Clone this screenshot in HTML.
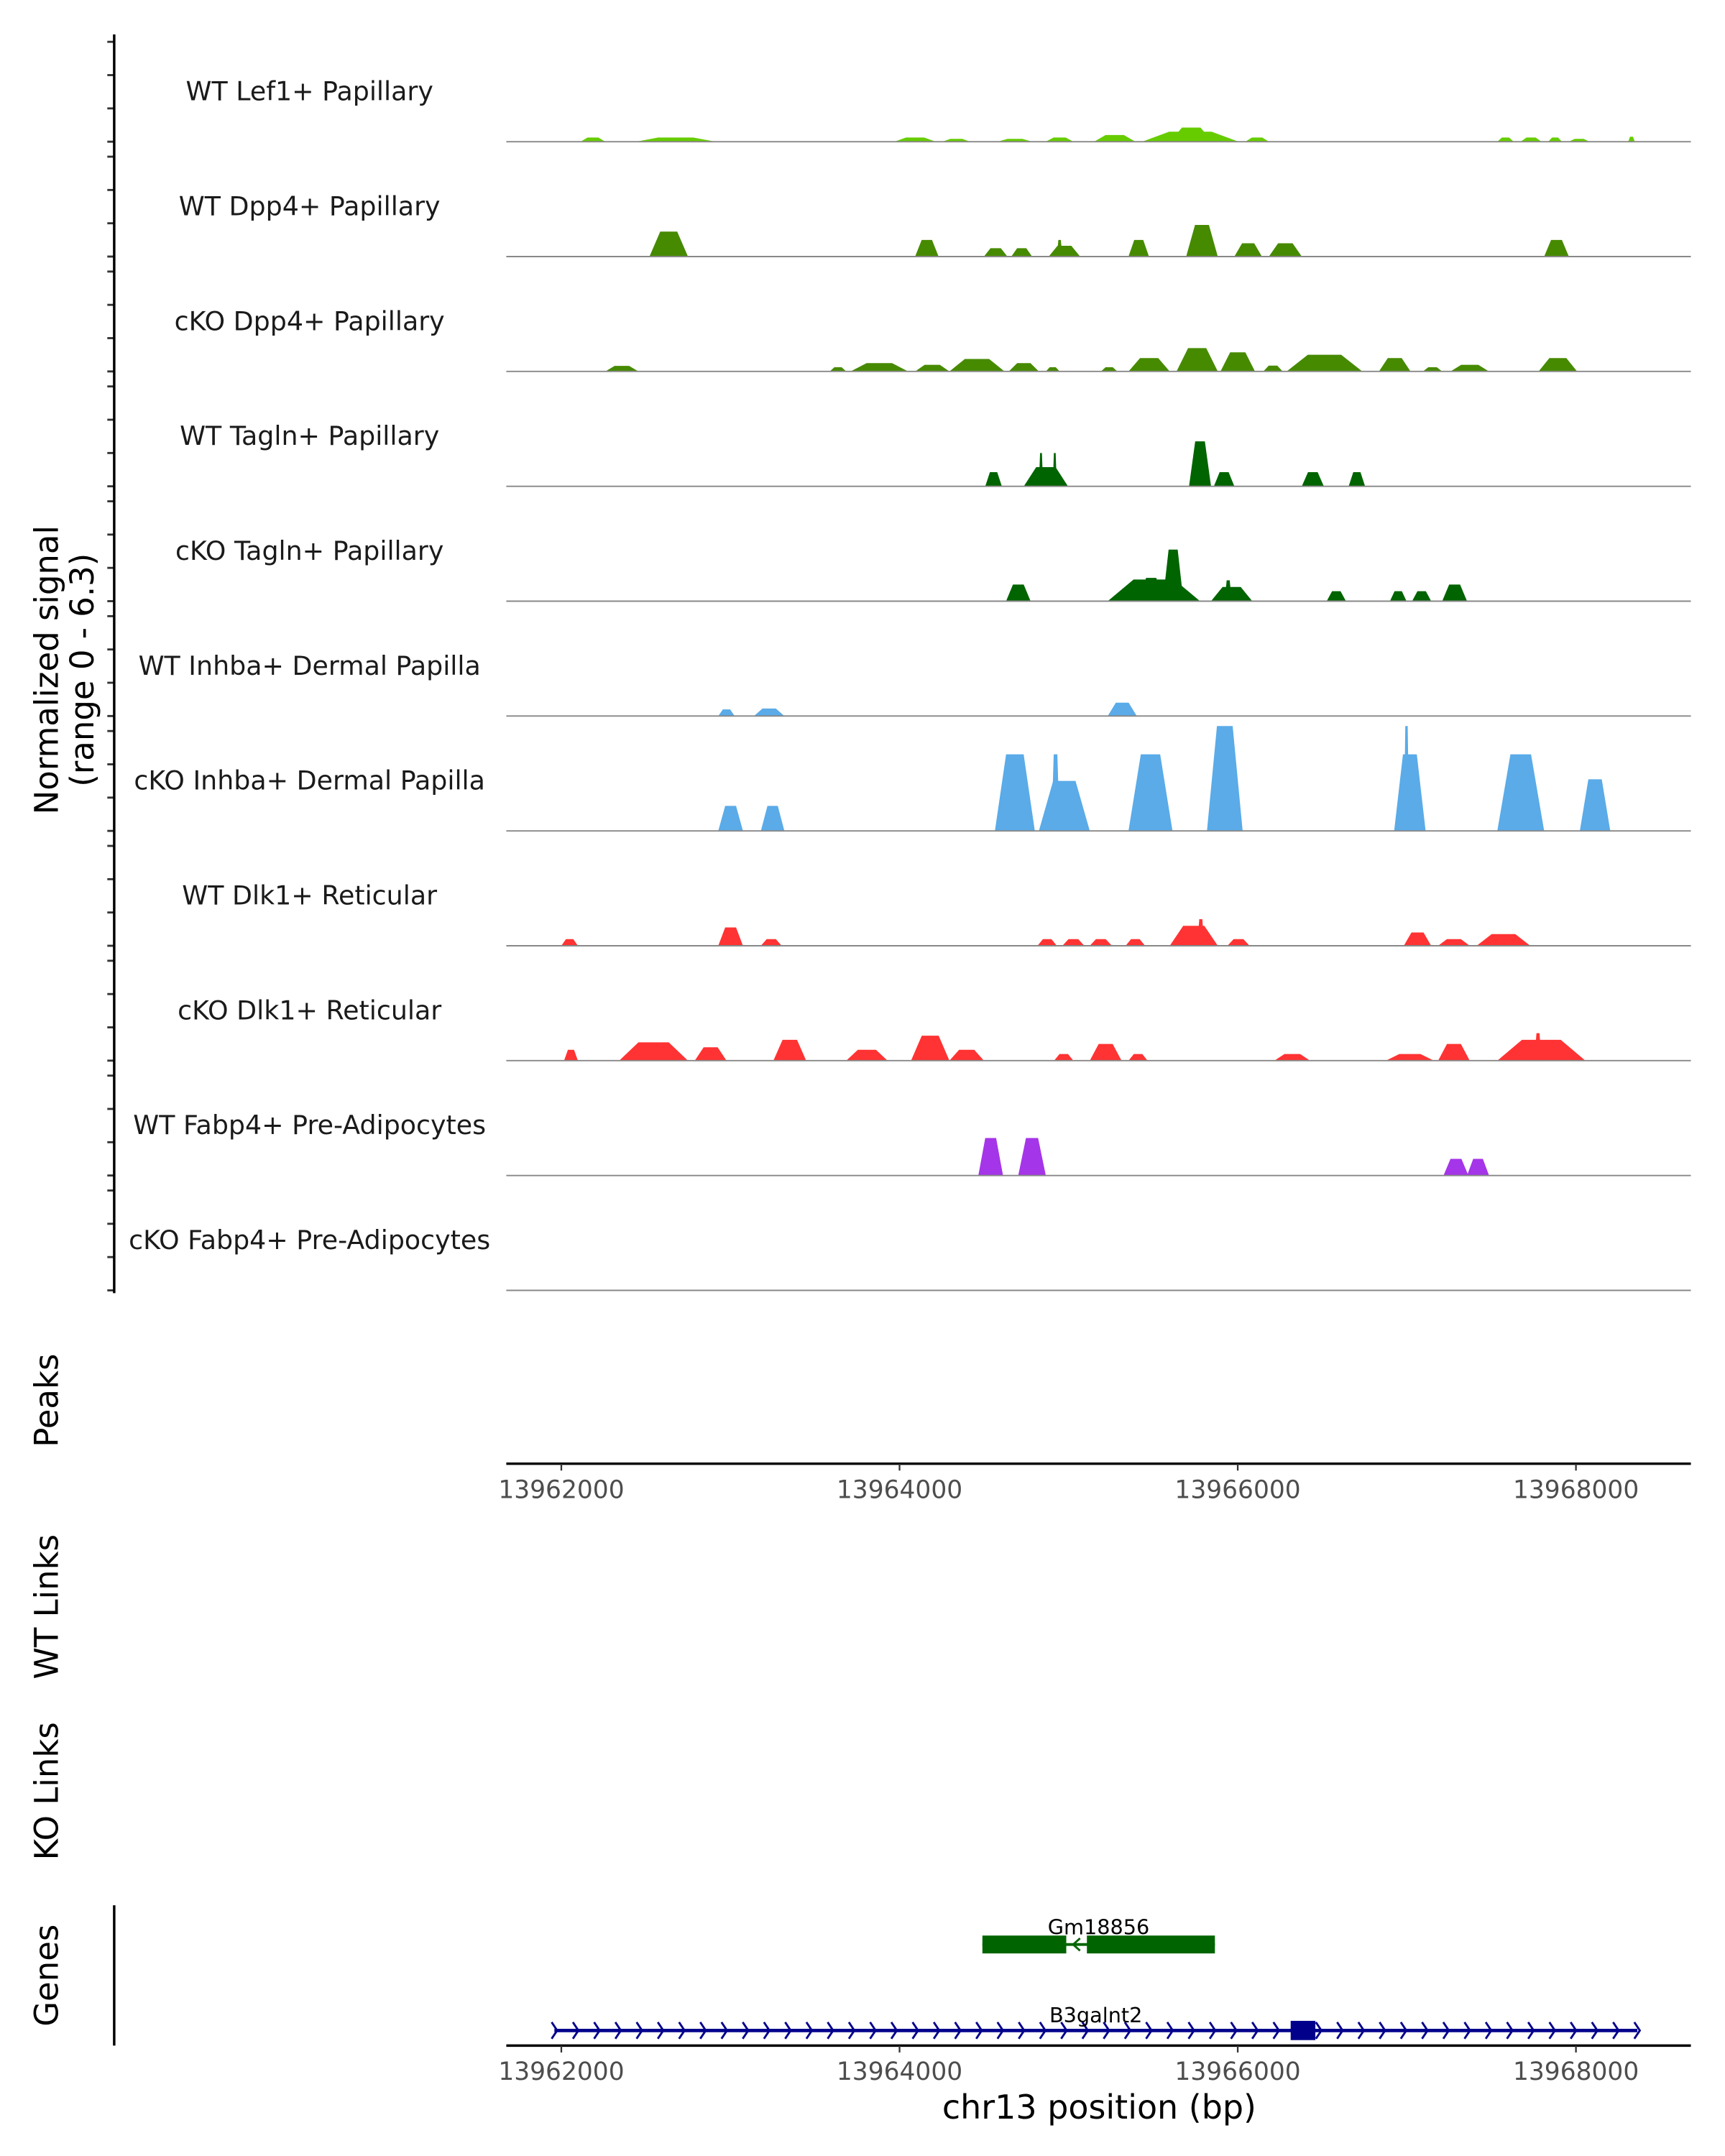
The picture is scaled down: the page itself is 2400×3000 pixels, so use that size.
<!DOCTYPE html>
<html><head><meta charset="utf-8"><style>
html,body{margin:0;padding:0;background:#fff}
svg{display:block}
text{font-family:"DejaVu Sans","Liberation Sans",sans-serif}
</style></head><body>
<svg id="chart" width="2400" height="3000" viewBox="0 0 1253.8 1567.25" xmlns="http://www.w3.org/2000/svg">
<g id="tracks"></g>
<g id="axes"></g>
</svg>
<script>
const trackNames = ["WT Lef1+ Papillary","WT Dpp4+ Papillary","cKO Dpp4+ Papillary","WT Tagln+ Papillary","cKO Tagln+ Papillary","WT Inhba+ Dermal Papilla","cKO Inhba+ Dermal Papilla","WT Dlk1+ Reticular","cKO Dlk1+ Reticular","WT Fabp4+ Pre-Adipocytes","cKO Fabp4+ Pre-Adipocytes"];
const trackColors = ["#66cc00","#468a00","#468a00","#006400","#006400","#5aabe8","#5aabe8","#ff3333","#ff3333","#a535e8","#a535e8"];
const xTicks = [13962000,13964000,13966000,13968000];
const yTicks = [0,2,4,6];
// peaks per track: [start bp, end bp, signal]
const peaksLef1WT = [[13962114,13962260,0.25],[13962440,13962912,0.25],[13963970,13964214,0.25],[13964254,13964417,0.17],[13964581,13964784,0.17],[13964865,13965028,0.25],[13965150,13965395,0.4],[13965435,13966005,0.6],[13965600,13965850,0.85],[13966045,13966184,0.25],[13967535,13967632,0.25],[13967673,13967796,0.25],[13967836,13967917,0.25],[13967958,13968080,0.17],[13968309,13968348,0.3]];
const peaksDpp4WT = [[13962521,13962749,1.5],[13964092,13964231,1.0],[13964499,13964638,0.5],[13964661,13964784,0.5],[13964882,13965068,0.65],[13964930,13964963,1.0],[13965354,13965475,1.0],[13965695,13965882,1.9],[13965980,13966143,0.8],[13966184,13966379,0.8],[13967812,13967958,1.0]];
const peaksDpp4KO = [[13962260,13962456,0.33],[13963587,13963685,0.25],[13963710,13964051,0.5],[13964092,13964295,0.4],[13964295,13964621,0.75],[13964646,13964824,0.5],[13964865,13964947,0.25],[13965191,13965288,0.25],[13965354,13965598,0.8],[13965638,13965882,1.4],[13965898,13966102,1.15],[13966151,13966266,0.35],[13966289,13966737,1.0],[13966835,13967022,0.8],[13967095,13967209,0.25],[13967258,13967486,0.4],[13967779,13968007,0.8]];
const peaksTaglnWT = [[13964507,13964605,0.85],[13964735,13964996,1.15],[13964824,13964849,2.0],[13964906,13964930,2.0],[13965712,13965842,2.7],[13965859,13965980,0.85],[13966379,13966509,0.85],[13966656,13966753,0.85]];
const peaksTaglnKO = [[13964630,13964775,1.0],[13965231,13965777,1.3],[13965419,13965557,1.4],[13965557,13965679,3.1],[13965842,13966086,0.85],[13965923,13965964,1.25],[13966526,13966640,0.6],[13966900,13966998,0.6],[13967031,13967144,0.6],[13967209,13967356,1.0]];
const peaksInhbaWT = [[13962928,13963025,0.4],[13963139,13963319,0.45],[13965231,13965403,0.8]];
const peaksInhbaKO = [[13962928,13963074,1.5],[13963180,13963319,1.5],[13964564,13964800,4.6],[13964824,13965125,3.0],[13964898,13964947,4.6],[13965354,13965614,4.6],[13965818,13966029,6.3],[13966925,13967111,4.6],[13966982,13967014,6.3],[13967535,13967812,4.6],[13968023,13968203,3.1]];
const peaksDlk1WT = [[13962000,13962098,0.4],[13962928,13963074,1.1],[13963180,13963303,0.4],[13964816,13964930,0.4],[13964963,13965093,0.4],[13965125,13965256,0.4],[13965337,13965452,0.4],[13965598,13965882,1.2],[13965761,13965802,1.6],[13965939,13966070,0.4],[13966982,13967144,0.8],[13967185,13967372,0.4],[13967413,13967730,0.7]];
const peaksDlk1KO = [[13962016,13962098,0.65],[13962342,13962749,1.1],[13962789,13962977,0.8],[13963254,13963448,1.25],[13963685,13963929,0.65],[13964068,13964295,1.5],[13964295,13964499,0.65],[13964914,13965028,0.4],[13965125,13965313,1.0],[13965354,13965467,0.4],[13966217,13966428,0.4],[13966876,13967160,0.4],[13967185,13967372,1.0],[13967535,13968056,1.25],[13967755,13967796,1.65]];
const peaksFabp4WT = [[13964466,13964612,2.25],[13964702,13964865,2.25],[13967217,13967364,1.0],[13967356,13967486,1.0]];
const peaksFabp4KO = [];
const trackPeaks = [peaksLef1WT,peaksDpp4WT,peaksDpp4KO,peaksTaglnWT,peaksTaglnKO,peaksInhbaWT,peaksInhbaKO,peaksDlk1WT,peaksDlk1KO,peaksFabp4WT,peaksFabp4KO];
const geneNames = ["Gm18856","B3galnt2"];
const gm18856Exons = [[13964490,13964986],[13965108,13965865]];
const b3galnt2Span = [13961959,13968363];
const b3galnt2Exons = [[13966313,13966459]];

const NS="http://www.w3.org/2000/svg";
const X0=368,X1=1229;
const xs = bp => 408 + (bp-13962000)*0.12291;
const ys = v => v*12.1;
const base = i => 103 + i*83.5;
function mk(tag, attrs, parent){const e=document.createElementNS(NS,tag);for(const k in attrs)e.setAttribute(k,attrs[k]);parent.appendChild(e);return e;}
const T=document.getElementById('tracks'), A=document.getElementById('axes');

trackNames.forEach((nm,i)=>{
  const b=base(i);
  const g=mk('g',{},T);
  
  
  trackPeaks[i].forEach(p=>{
    const s=xs(p[0]),e=xs(p[1]),h=ys(p[2]),w=e-s;
    const poly=mk('polygon',{points:`${s},${b} ${s+w*0.28},${b-h} ${e-w*0.28},${b-h} ${e},${b}`,fill:trackColors[i]},g);
    
    
  });
  const ln=mk('line',{x1:X0,x2:X1,y1:b,y2:b,stroke:'#888','stroke-width':1},g);
  
  
  const t=mk('text',{x:225,y:b-30,'text-anchor':'middle','font-size':19,fill:'#1a1a1a'},g);
  t.textContent=nm;
  
  
  yTicks.forEach(v=>{
    const tk=mk('line',{x1:78,x2:83,y1:b-ys(v),y2:b-ys(v),stroke:'#333','stroke-width':1.5},A);
    
    
  });
});
const yax=mk('line',{x1:83,x2:83,y1:25,y2:940,stroke:'#000','stroke-width':1.8},A);



function rotText(txt,x,y,size,name){
  const t=mk('text',{x:0,y:0,transform:`translate(${x},${y}) rotate(-90)`,'text-anchor':'middle','font-size':size,fill:'#000'},A);
  t.textContent=txt;
  
  
  return t;
}
const yt=mk('text',{transform:'translate(42,487) rotate(-90)','text-anchor':'middle','font-size':23.5,fill:'#000'},A);


yt.innerHTML='<tspan x="0" dy="0">Normalized signal</tspan><tspan x="0" dy="26">(range 0 - 6.3)</tspan>';
rotText('Peaks',42,1018,23.5,'peaks-label');
rotText('WT Links',42,1168,23.5,'wt-links-label');
rotText('KO Links',42,1302,23.5,'ko-links-label');
rotText('Genes',42,1436,23.5,'genes-label');

function xAxis(y,name){
  const l=mk('line',{x1:X0,x2:X1,y1:y,y2:y,stroke:'#000','stroke-width':1.8},A);
  
  
  xTicks.forEach(v=>{
    const tk=mk('line',{x1:xs(v),x2:xs(v),y1:y,y2:y+5,stroke:'#333','stroke-width':1.2},A);
    
    
    const t=mk('text',{x:xs(v),y:y+25,'text-anchor':'middle','font-size':18,fill:'#4d4d4d'},A);
    t.textContent=v;
    
    
  });
}
xAxis(1064,'peaks-x-axis');
xAxis(1487,'genes-x-axis');
const gl=mk('line',{x1:83,x2:83,y1:1385,y2:1487,stroke:'#000','stroke-width':1.8},A);


const xt=mk('text',{x:799,y:1540,'text-anchor':'middle','font-size':24,fill:'#000'},A);
xt.textContent='chr13 position (bp)';



// genes
const G=mk('g',{},A);


const gs=xs(gm18856Exons[0][0]), ge=xs(gm18856Exons[1][1]);
mk('line',{x1:gs,x2:ge,y1:1413.5,y2:1413.5,stroke:'#006400','stroke-width':2},G);
gm18856Exons.forEach(e=>{
  const r=mk('rect',{x:xs(e[0]),y:1407,width:xs(e[1])-xs(e[0]),height:13,fill:'#006400'},G);
  
  
});
const ax=(xs(gm18856Exons[0][1])+xs(gm18856Exons[1][0]))/2;
mk('path',{d:`M${ax+2.5},1409 L${ax-2.5},1413.5 L${ax+2.5},1418`,stroke:'#006400','stroke-width':1.5,fill:'none'},G);
const g1=mk('text',{x:(gs+ge)/2,y:1406,'text-anchor':'middle','font-size':15,fill:'#000'},G);
g1.textContent=geneNames[0];


const bs=xs(b3galnt2Span[0]), be=xs(b3galnt2Span[1]);
mk('line',{x1:bs,x2:be,y1:1476,y2:1476,stroke:'#00008b','stroke-width':2.5},G);
let d='';
for(let x=bs;x<=be+0.1;x+=15.43){d+=`M${x-2},1470 L${x+2},1476 L${x-2},1482 `;}
mk('path',{d:d,stroke:'#00008b','stroke-width':1.5,fill:'none'},G);
b3galnt2Exons.forEach(e=>{
  const r=mk('rect',{x:xs(e[0]),y:1469,width:xs(e[1])-xs(e[0]),height:14,fill:'#00008b'},G);
  
  
});
const g2=mk('text',{x:(bs+be)/2,y:1470,'text-anchor':'middle','font-size':15,fill:'#000'},G);
g2.textContent=geneNames[1];


</script>
</body></html>
